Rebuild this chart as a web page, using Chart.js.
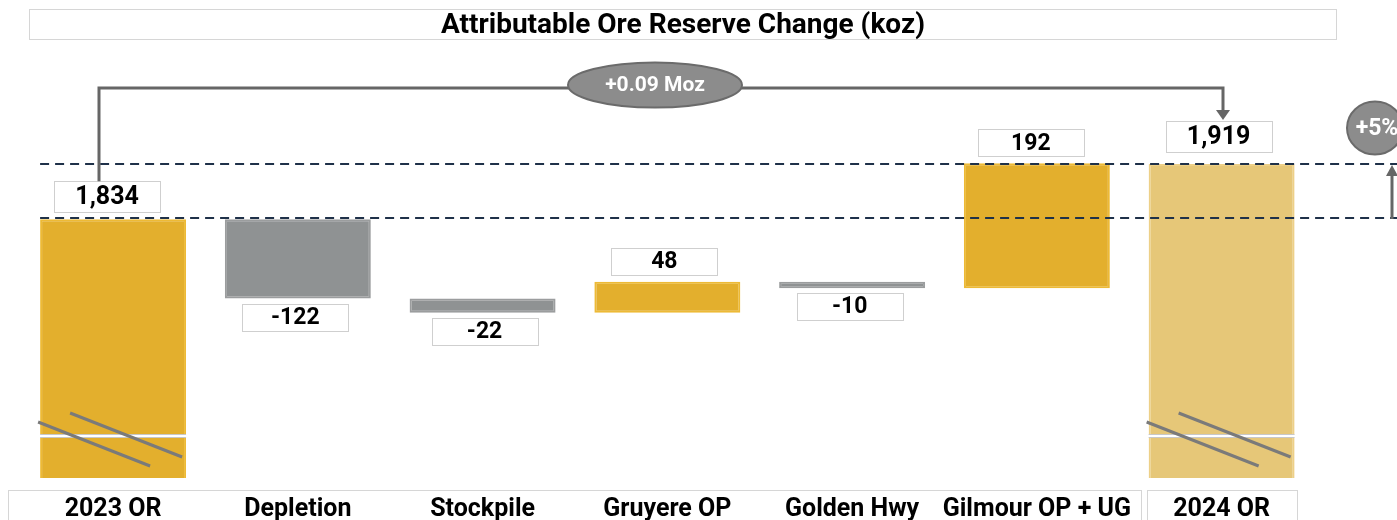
<!DOCTYPE html>
<html>
<head>
<meta charset="utf-8">
<script src="https://cdn.jsdelivr.net/npm/chart.js@4.4.1/dist/chart.umd.min.js"></script>
<style>
  html, body { margin: 0; padding: 0; background: #ffffff; }
  #wrap { width: 1397px; height: 520px; position: relative; }
</style>
</head>
<body>
<div id="wrap"><canvas id="c" width="1397" height="520"></canvas></div>
<script>
// ---- Data ----
const categories = ['2023 OR', 'Depletion', 'Stockpile', 'Gruyere OP', 'Golden Hwy', 'Gilmour OP + UG', '2024 OR'];
const changes = [1834, -122, -22, 48, -10, 192, 1919];
const isTotal = [true, false, false, false, false, false, true];
const valueLabels = ['1,834', '-122', '-22', '48', '-10', '192', '1,919'];
const titleText = 'Attributable Ore Reserve Change (koz)';
const changeText = '+0.09 Moz';
const pctText = '+5%';

// floating ranges built from the values
const ranges = [];
let running = 0;
changes.forEach((v, i) => {
  if (isTotal[i]) { ranges.push([0, v]); running = v; }
  else { ranges.push([running, running + v]); running += v; }
});

const GOLD = '#E3AF2D', GOLD_B = '#EDBA36';
const GREY = '#8F9293', GREY_B = '#9B9D9E';
const LIGHT = '#E6C778', LIGHT_B = '#EDD088';
const bg = changes.map((v, i) => i === 6 ? LIGHT : (v >= 0 ? GOLD : GREY));
const bd = changes.map((v, i) => i === 6 ? LIGHT_B : (v >= 0 ? GOLD_B : GREY_B));

const FONT = 'Roboto, "Liberation Sans", sans-serif';
// horizontal nudges of the value boxes relative to bar centres (px)
const boxShift = [-6, -2.5, 2, -3, -2.5, -6, -3];

const decor = {
  id: 'decor',
  afterDatasetsDraw(chart) {
    const ctx = chart.ctx;
    const xs = chart.scales.x, ys = chart.scales.y;
    const meta = chart.getDatasetMeta(0);
    const area = chart.chartArea;
    ctx.save();

    // axis break on total bars
    const breakY = area.bottom - 44;
    [0, 6].forEach(i => {
      const b = meta.data[i];
      const left = b.x - b.width / 2, right = b.x + b.width / 2;
      ctx.fillStyle = '#ffffff';
      ctx.fillRect(left - 1, breakY, b.width + 2, 4);
      ctx.strokeStyle = '#c8c8c8'; ctx.lineWidth = 1;
      ctx.beginPath();
      ctx.moveTo(left, breakY + 0.5); ctx.lineTo(right, breakY + 0.5);
      ctx.moveTo(left, breakY + 3.5); ctx.lineTo(right, breakY + 3.5);
      ctx.stroke();
      ctx.strokeStyle = '#7a7a7a'; ctx.lineWidth = 3; ctx.lineCap = 'butt';
      ctx.beginPath();
      ctx.moveTo(left - 2, breakY - 12); ctx.lineTo(left + 110, breakY + 32);
      ctx.moveTo(left + 30, breakY - 21); ctx.lineTo(left + 142, breakY + 23);
      ctx.stroke();
    });

    // dashed reference lines at the two totals
    const y1 = Math.round(ys.getPixelForValue(changes[0]));
    const y2 = Math.round(ys.getPixelForValue(changes[6]));
    const x0 = meta.data[0].x - meta.data[0].width / 2;
    ctx.strokeStyle = '#1F3149'; ctx.lineWidth = 2; ctx.setLineDash([9, 6]);
    ctx.beginPath();
    ctx.moveTo(x0, y1 - 1); ctx.lineTo(chart.width, y1 - 1);
    ctx.moveTo(x0, y2); ctx.lineTo(chart.width, y2);
    ctx.stroke();
    ctx.setLineDash([]);

    // value boxes
    const boxTops = [];
    meta.data.forEach((b, i) => {
      const r = ranges[i];
      const top = ys.getPixelForValue(Math.max(r[0], r[1]));
      const bot = ys.getPixelForValue(Math.min(r[0], r[1]));
      const w = 106;
      const h = isTotal[i] ? 31 : 27;
      const bx = b.x - w / 2 + boxShift[i];
      let by;
      if (changes[i] >= 0) by = top - (i === 6 ? 12 : 7) - h;
      else by = bot + 5;
      boxTops.push(by);
      ctx.fillStyle = '#ffffff';
      ctx.fillRect(bx, by, w, h);
      ctx.strokeStyle = '#cfcfcf'; ctx.lineWidth = 1;
      ctx.strokeRect(Math.round(bx) + 0.5, Math.round(by) + 0.5, w, h);
      ctx.fillStyle = '#000000';
      ctx.font = 'bold ' + (isTotal[i] ? 25 : 23) + 'px ' + FONT;
      ctx.textAlign = 'center'; ctx.textBaseline = 'middle';
      ctx.fillText(valueLabels[i], bx + w / 2, by + h / 2 + 1);
    });

    // connector from 2023 to 2024
    const cx0 = 99, cyTop = 88;
    const cx1 = Math.round(meta.data[6].x) + 1;
    const tipY = boxTops[6] - 1;
    ctx.strokeStyle = '#666666'; ctx.lineWidth = 3; ctx.lineJoin = 'miter';
    ctx.beginPath();
    ctx.moveTo(cx0, boxTops[0]); ctx.lineTo(cx0, cyTop); ctx.lineTo(cx1, cyTop); ctx.lineTo(cx1, tipY - 8);
    ctx.stroke();
    ctx.fillStyle = '#666666';
    ctx.beginPath();
    ctx.moveTo(cx1 - 7, tipY - 10); ctx.lineTo(cx1 + 7, tipY - 10); ctx.lineTo(cx1, tipY); ctx.closePath();
    ctx.fill();

    // ellipse label
    ctx.beginPath();
    ctx.ellipse(655, 85, 87, 22.5, 0, 0, Math.PI * 2);
    ctx.fillStyle = '#8C8C8C'; ctx.fill();
    ctx.strokeStyle = '#6B6B6B'; ctx.lineWidth = 2; ctx.stroke();
    ctx.fillStyle = '#ffffff'; ctx.font = 'bold 21px ' + FONT;
    ctx.textAlign = 'center'; ctx.textBaseline = 'middle';
    ctx.fillText(changeText, 655, 86);

    // +5% bubble and arrow
    ctx.beginPath();
    ctx.ellipse(1375, 128, 28, 26.5, 0, 0, Math.PI * 2);
    ctx.fillStyle = '#8C8C8C'; ctx.fill();
    ctx.strokeStyle = '#6B6B6B'; ctx.lineWidth = 2; ctx.stroke();
    ctx.fillStyle = '#ffffff'; ctx.font = 'bold 23px ' + FONT;
    ctx.fillText(pctText, 1377, 129);

    ctx.strokeStyle = '#666666'; ctx.lineWidth = 3;
    ctx.beginPath(); ctx.moveTo(1392, y1); ctx.lineTo(1392, y2 + 10); ctx.stroke();
    ctx.fillStyle = '#666666';
    ctx.beginPath(); ctx.moveTo(1386, y2 + 12); ctx.lineTo(1398, y2 + 12); ctx.lineTo(1392, y2 + 1); ctx.closePath(); ctx.fill();

    // title box
    ctx.strokeStyle = '#d6d6d6'; ctx.lineWidth = 1;
    ctx.strokeRect(29.5, 9.5, 1307, 30);
    ctx.fillStyle = '#000000'; ctx.font = 'bold 28px ' + FONT;
    ctx.textAlign = 'center'; ctx.textBaseline = 'middle';
    ctx.fillText(titleText, 683, 26);

    // category axis boxes and labels
    ctx.strokeStyle = '#d6d6d6';
    ctx.strokeRect(8.5, 490.5, 1133, 40);
    ctx.strokeRect(1147.5, 490.5, 150, 40);
    ctx.font = 'bold 25px ' + FONT;
    ctx.textBaseline = 'alphabetic';
    categories.forEach((c, i) => {
      ctx.fillText(c, xs.getPixelForValue(i), 516);
    });

    ctx.restore();
  }
};

new Chart(document.getElementById('c'), {
  type: 'bar',
  data: {
    labels: categories,
    datasets: [{
      data: ranges,
      backgroundColor: bg,
      borderColor: bd,
      borderWidth: 2,
      borderSkipped: false,
      barPercentage: 0.79,
      categoryPercentage: 1,
      clip: 0
    }]
  },
  options: {
    responsive: false,
    devicePixelRatio: 1,
    animation: false,
    layout: { padding: { left: 20.7, right: 83, top: 45, bottom: 42 } },
    plugins: { legend: { display: false }, tooltip: { enabled: false }, title: { display: false } },
    scales: {
      x: { display: false },
      y: { display: false, min: 1436, max: 2102 }
    }
  },
  plugins: [decor]
});
</script>
</body>
</html>
